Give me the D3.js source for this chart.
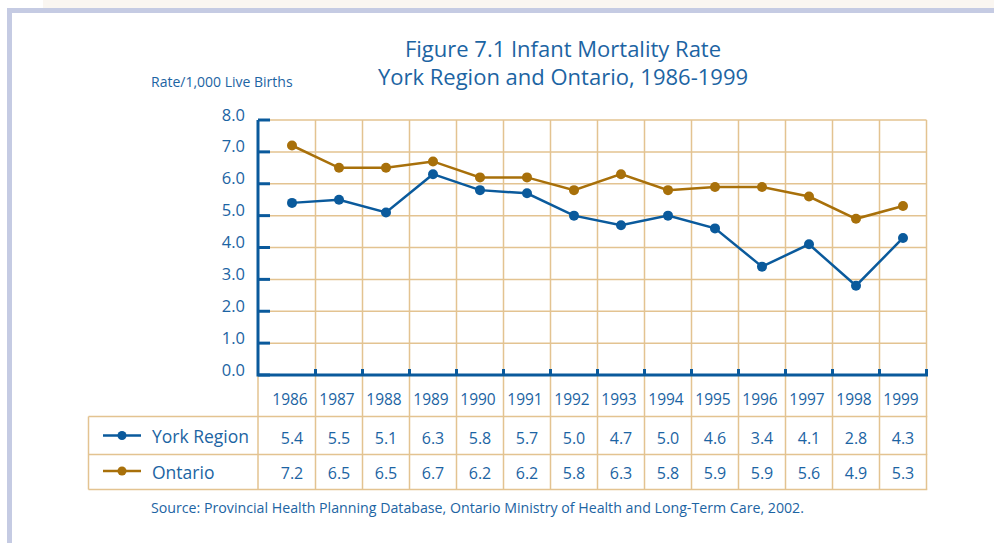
<!DOCTYPE html>
<html><head><meta charset="utf-8">
<script src="https://cdn.jsdelivr.net/npm/d3@7"></script>
<style>body{margin:0;background:#fff}svg{display:block}text{font-family:"Open Sans",Lato,sans-serif;fill:#1c64a3}</style>
</head><body>
<script>
const years = ["1986","1987","1988","1989","1990","1991","1992","1993","1994","1995","1996","1997","1998","1999"];
const yorkValues = [5.4,5.5,5.1,6.3,5.8,5.7,5.0,4.7,5.0,4.6,3.4,4.1,2.8,4.3];
const ontarioValues = [7.2,6.5,6.5,6.7,6.2,6.2,5.8,6.3,5.8,5.9,5.9,5.6,4.9,5.3];
const yTicks = [0,1,2,3,4,5,6,7,8];
const seriesNames = ["York Region","Ontario"];
const titleLines = ["Figure 7.1 Infant Mortality Rate","York Region and Ontario, 1986-1999"];
const yLabel = "Rate/1,000 Live Births";
const sourceText = "Source: Provincial Health Planning Database, Ontario Ministry of Health and Long-Term Care, 2002.";

const W=994,H=543;
const blue="#0a5a9c", gold="#a8700a", grid="#e3c391", band="#c5cbe3";
const svg=d3.select("body").append("svg").attr("width",W).attr("height",H);

// frame
svg.append("rect").attr("x",43).attr("y",0).attr("width",W-43).attr("height",8).attr("fill","#faf6f1");
svg.append("rect").attr("x",7).attr("y",8).attr("width",W-7).attr("height",5).attr("fill",band);
svg.append("rect").attr("x",7).attr("y",8).attr("width",5).attr("height",H-8).attr("fill",band);

const x=d3.scaleBand().domain(years).range([268.5,926.5]);
const y=d3.scaleLinear().domain([0,8]).range([375,120]);
const axisX=258, tableTop=416.5, rowMid=454.5, tableBot=489.5, tableLeft=88.5;

// titles
svg.selectAll("text.title").data(titleLines).enter().append("text")
  .attr("x",563).attr("y",(d,i)=>57+i*28).attr("text-anchor","middle")
  .style("font-size","22px").text(d=>d);
svg.append("text").attr("x",151).attr("y",87).style("font-size","14px").text(yLabel);

// horizontal gridlines
svg.append("g").selectAll("line").data(yTicks.slice(1)).enter().append("line")
  .attr("x1",axisX).attr("x2",x.range()[1]).attr("y1",d=>y(d)).attr("y2",d=>y(d))
  .attr("stroke",grid).attr("stroke-width",1.5);
// vertical gridlines
const vx = years.slice(1).map(v=>x(v)).concat([x.range()[1]]);
svg.append("g").selectAll("line").data(vx).enter().append("line")
  .attr("x1",d=>d).attr("x2",d=>d).attr("y1",120).attr("y2",tableBot)
  .attr("stroke",grid).attr("stroke-width",1.5);
svg.append("line").attr("x1",axisX).attr("x2",axisX).attr("y1",375).attr("y2",tableBot).attr("stroke",grid).attr("stroke-width",1.5);
// table lines
[tableTop,rowMid,tableBot].forEach(yy=>svg.append("line").attr("x1",tableLeft).attr("x2",x.range()[1]+0.75).attr("y1",yy).attr("y2",yy).attr("stroke",grid).attr("stroke-width",1.5));
svg.append("line").attr("x1",tableLeft).attr("x2",tableLeft).attr("y1",tableTop).attr("y2",tableBot).attr("stroke",grid).attr("stroke-width",1.5);

// axes
svg.append("path").attr("d",`M${axisX},120V375H${x.range()[1]}V369`).attr("fill","none").attr("stroke",blue).attr("stroke-width",3);
svg.append("g").selectAll("line").data(yTicks).enter().append("line")
  .attr("x1",axisX).attr("x2",270).attr("y1",d=>y(d)).attr("y2",d=>y(d)).attr("stroke",blue).attr("stroke-width",3);
svg.append("g").selectAll("line").data(years.slice(1)).enter().append("line")
  .attr("x1",d=>x(d)).attr("x2",d=>x(d)).attr("y1",375).attr("y2",369).attr("stroke",blue).attr("stroke-width",3);
svg.append("g").selectAll("text").data(yTicks).enter().append("text")
  .attr("x",245).attr("y",d=>y(d)+0.5).attr("text-anchor","end").style("font-size","16.5px").text(d=>d.toFixed(1));
// year labels
svg.append("g").selectAll("text").data(years).enter().append("text")
  .attr("x",d=>x(d)+x.bandwidth()/2-2).attr("y",405).attr("text-anchor","middle").style("font-size","15.5px").text(d=>d);

// lines
const cx=(d,i)=>x(years[i])+x.bandwidth()/2;
const series=[{vals:yorkValues,col:blue},{vals:ontarioValues,col:gold}];
series.forEach(s=>{
  svg.append("path").datum(s.vals).attr("d",d3.line().x(cx).y(d=>y(d)))
    .attr("fill","none").attr("stroke",s.col).attr("stroke-width",2.5);
  svg.append("g").selectAll("circle").data(s.vals).enter().append("circle")
    .attr("cx",cx).attr("cy",d=>y(d)).attr("r",5).attr("fill",s.col);
});

// table rows
const rowY=[435.5,471];
series.forEach((s,k)=>{
  svg.append("line").attr("x1",103).attr("x2",141).attr("y1",rowY[k]).attr("y2",rowY[k]).attr("stroke",s.col).attr("stroke-width",2.5);
  svg.append("circle").attr("cx",122).attr("cy",rowY[k]).attr("r",4.5).attr("fill",s.col);
  svg.append("text").attr("x",152).attr("y",rowY[k]+7.5).style("font-size","17.5px").text(seriesNames[k]);
  svg.append("g").selectAll("text").data(s.vals).enter().append("text")
    .attr("x",cx).attr("y",rowY[k]+8).attr("text-anchor","middle").style("font-size","16px").text(d=>d.toFixed(1));
});

svg.append("text").attr("x",151).attr("y",513).style("font-size","14.2px").text(sourceText);
</script>
</body></html>
